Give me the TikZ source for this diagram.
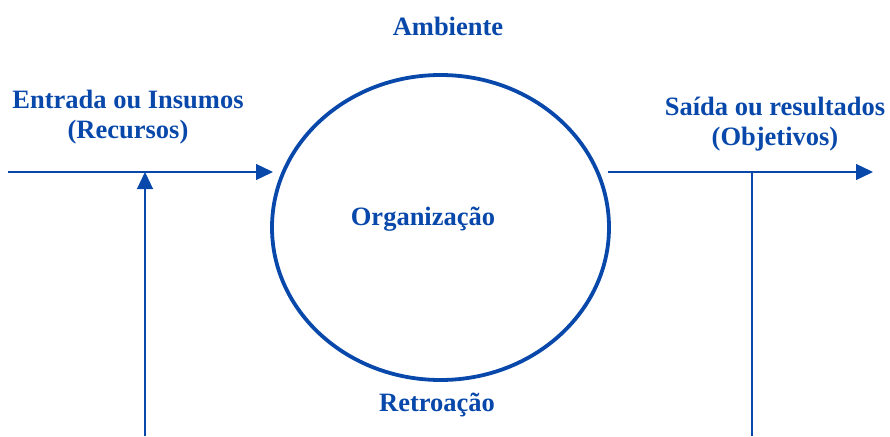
\documentclass[tikz,border=0pt]{standalone}
\usepackage{fontspec}
\setmainfont{Liberation Serif}
\usetikzlibrary{arrows.meta,shapes.geometric}
\definecolor{azul}{RGB}{8,72,170}
\begin{document}
\begin{tikzpicture}[x=1pt,y=-1pt,
  lbl/.style={text=azul,font=\fontsize{26.5}{30}\selectfont\bfseries,inner sep=0pt,align=center},
  conn/.style={draw=azul,line width=1.2pt},
  arr/.style={conn,-{Triangle[length=17pt,width=16pt]}}]
\useasboundingbox (0,0) rectangle (890,436);
\node[draw=azul,line width=3.8pt,ellipse,minimum width=337pt,minimum height=305pt,inner sep=0pt] (org) at (440.5,227.5) {};
\node[lbl] (orgt) at (423,219) {Organização};
\node[lbl] (amb) at (448,26) {Ambiente};
\node[lbl] (ent) at (128,117) {Entrada ou Insumos\\(Recursos)};
\node[lbl] (sai) at (775,124) {Saída ou resultados\\(Objetivos)};
\node[lbl] (ret) at (437,405) {Retroação};
\coordinate (inA) at (8,172);
\coordinate (inB) at (273,172);
\coordinate (fbA) at (145,436);
\coordinate (fbB) at (145,172);
\coordinate (outA) at (608,172);
\coordinate (outB) at (873,172);
\coordinate (rvA) at (752,172);
\coordinate (rvB) at (752,436);
\draw[arr] (inA) -- (inB);
\draw[arr] (fbA) -- (fbB);
\draw[arr] (outA) -- (outB);
\draw[conn] (rvA) -- (rvB);
\end{tikzpicture}
\end{document}
